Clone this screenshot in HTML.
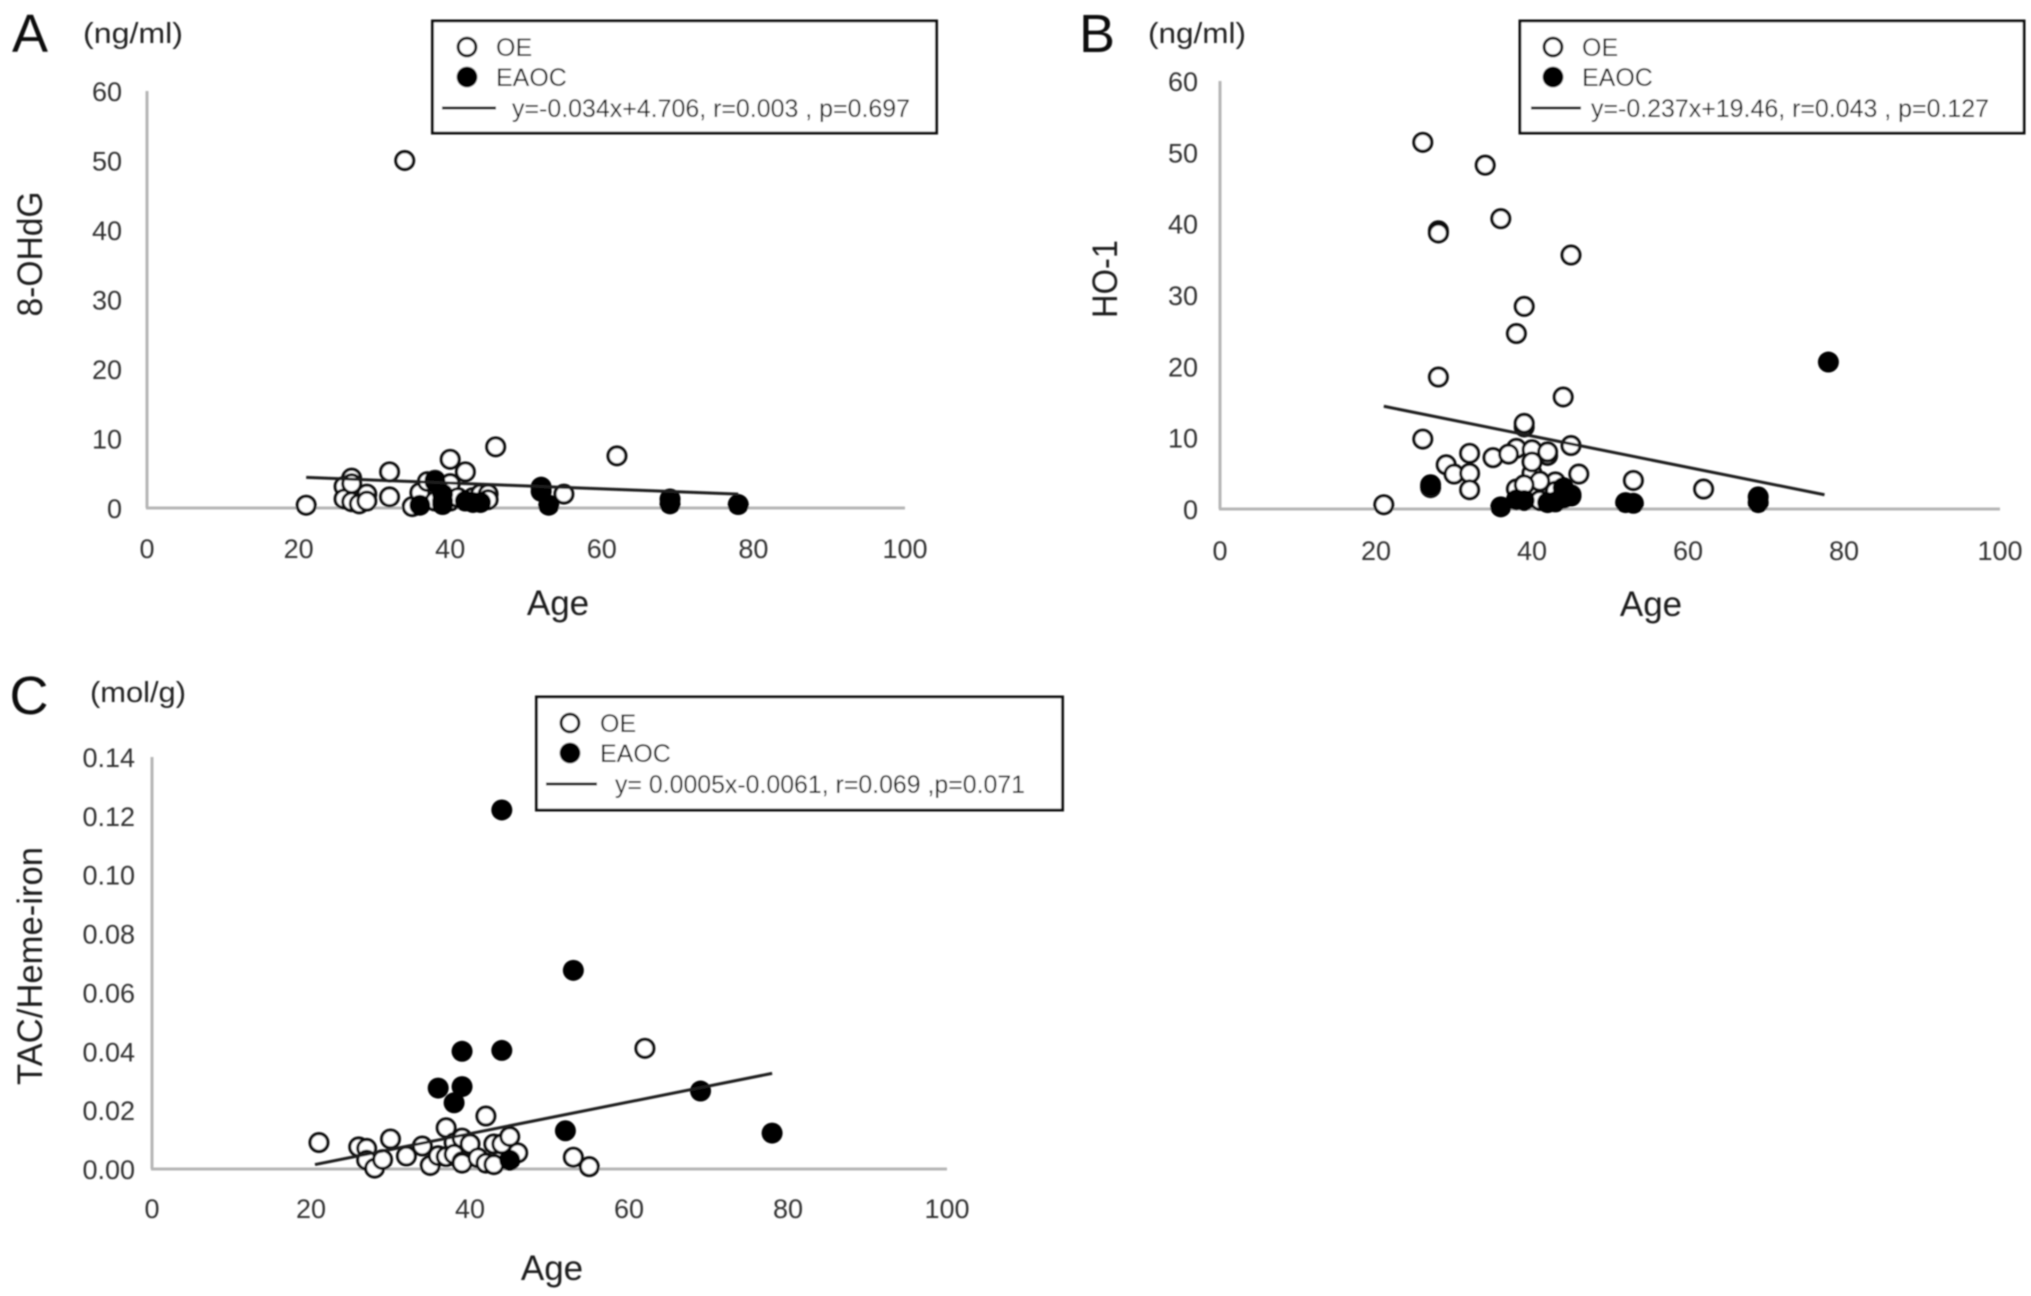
<!DOCTYPE html>
<html lang="en">
<head>
<meta charset="utf-8">
<title>OE and EAOC markers versus age</title>
<style>
  html, body { margin: 0; padding: 0; background: #ffffff; }
  #figure { display: block; width: 2031px; height: 1296px; }
  text { font-family: "Liberation Sans", sans-serif; }
  .tick { font-size: 27px; fill: #333333; }
  .axis-title { font-size: 35px; fill: #1f1f1f; }
  .unit { font-size: 29px; fill: #222222; }
  .panel-letter { font-size: 54px; fill: #111111; }
  .legend-text { font-size: 25px; fill: #141414; }
</style>
</head>
<body>
<svg id="figure" xmlns="http://www.w3.org/2000/svg" width="2031" height="1296" viewBox="0 0 2031 1296">
  <defs>
    <filter id="soften" x="-2%" y="-2%" width="104%" height="104%"><feGaussianBlur stdDeviation="0.7"/></filter>
  </defs>
  <rect width="2031" height="1296" fill="#ffffff"/>
  <g id="art" filter="url(#soften)">
    <g id="panel-a">
      <text class="panel-letter" x="30" y="52" text-anchor="middle">A</text>
      <text class="unit" x="133" y="43" text-anchor="middle" textLength="100" lengthAdjust="spacingAndGlyphs">(ng/ml)</text>
      <text class="axis-title" x="558" y="615" text-anchor="middle">Age</text>
      <text class="axis-title" transform="translate(42 254) rotate(-90)" text-anchor="middle" textLength="125" lengthAdjust="spacingAndGlyphs">8-OHdG</text>
    </g>
    <g id="panel-b">
      <text class="panel-letter" x="1097" y="52" text-anchor="middle">B</text>
      <text class="unit" x="1197" y="43" text-anchor="middle" textLength="98" lengthAdjust="spacingAndGlyphs">(ng/ml)</text>
      <text class="axis-title" x="1651" y="616" text-anchor="middle">Age</text>
      <text class="axis-title" transform="translate(1117 279) rotate(-90)" text-anchor="middle" textLength="78" lengthAdjust="spacingAndGlyphs">HO-1</text>
    </g>
    <g id="panel-c">
      <text class="panel-letter" x="29" y="714" text-anchor="middle">C</text>
      <text class="unit" x="138" y="702" text-anchor="middle" textLength="96" lengthAdjust="spacingAndGlyphs">(mol/g)</text>
      <text class="axis-title" x="552" y="1280" text-anchor="middle">Age</text>
      <text class="axis-title" transform="translate(42 966) rotate(-90)" text-anchor="middle" textLength="238" lengthAdjust="spacingAndGlyphs">TAC/Heme-iron</text>
    </g>

    <g>
      <rect x="432.5" y="21" width="504" height="112" fill="#ffffff" stroke="#111111" stroke-width="3"/>
      <circle cx="467" cy="47" r="8.9" fill="#ffffff" stroke="#111111" stroke-width="3"/>
      <text class="legend-text" x="496" y="56">OE</text>
      <circle cx="467" cy="77" r="10.4" fill="#000000"/>
      <text class="legend-text" x="496" y="86">EAOC</text>
      <line x1="442" y1="108" x2="496" y2="108" stroke="#111111" stroke-width="3"/>
      <text class="legend-text" x="512" y="117" textLength="398" lengthAdjust="spacingAndGlyphs">y=-0.034x+4.706, r=0.003 , p=0.697</text>
    </g>
    <g>
      <rect x="1520" y="21" width="504" height="112" fill="#ffffff" stroke="#111111" stroke-width="3"/>
      <circle cx="1553" cy="47" r="8.9" fill="#ffffff" stroke="#111111" stroke-width="3"/>
      <text class="legend-text" x="1582" y="56">OE</text>
      <circle cx="1553" cy="77" r="10.4" fill="#000000"/>
      <text class="legend-text" x="1582" y="86">EAOC</text>
      <line x1="1531" y1="108" x2="1581" y2="108" stroke="#111111" stroke-width="3"/>
      <text class="legend-text" x="1591" y="117" textLength="398" lengthAdjust="spacingAndGlyphs">y=-0.237x+19.46, r=0.043 , p=0.127</text>
    </g>
    <g>
      <rect x="536.5" y="697" width="526" height="113" fill="#ffffff" stroke="#111111" stroke-width="3"/>
      <circle cx="570" cy="723" r="8.9" fill="#ffffff" stroke="#111111" stroke-width="3"/>
      <text class="legend-text" x="600" y="732">OE</text>
      <circle cx="570" cy="753" r="10.4" fill="#000000"/>
      <text class="legend-text" x="600" y="762">EAOC</text>
      <line x1="546" y1="784" x2="597" y2="784" stroke="#111111" stroke-width="3"/>
      <text class="legend-text" x="615" y="793" textLength="410" lengthAdjust="spacingAndGlyphs">y= 0.0005x-0.0061, r=0.069 ,p=0.071</text>
    </g>
  </g>
</svg>
<script>
var xTickLabels = ["0", "20", "40", "60", "80", "100"];
var yTickLabelsA = ["0", "10", "20", "30", "40", "50", "60"];
var yTickLabelsB = ["0", "10", "20", "30", "40", "50", "60"];
var yTickLabelsC = ["0.00", "0.02", "0.04", "0.06", "0.08", "0.10", "0.12", "0.14"];

var oeAgesA = [21, 26, 26, 27, 27, 27, 28, 29, 29, 32, 32, 34, 35, 36, 37, 38, 38, 39, 40, 40, 40, 41, 42, 43, 44, 45, 45, 46, 55, 62];
var oeValuesA = [0.4, 3.1, 1.3, 4.3, 3.5, 0.9, 0.6, 2.0, 1.0, 5.2, 1.6, 50, 0.2, 2.2, 3.8, 4.0, 1.0, 2.0, 7.0, 3.5, 1.0, 1.5, 5.2, 1.5, 2.0, 2.0, 1.2, 8.8, 2.0, 7.5];
var eaocAgesA = [36, 38, 39, 39, 39, 42, 43, 44, 52, 52, 53, 69, 69, 78];
var eaocValuesA = [0.4, 3.8, 2.0, 1.0, 0.5, 1.0, 0.8, 0.8, 3.0, 2.4, 0.4, 1.3, 0.6, 0.5];
var trendAgesA = [21, 78];
var trendValuesA = [4.4, 2.0];

var oeAgesB = [26, 28, 28, 29, 30, 34, 36, 38, 38, 38, 39, 39, 39, 40, 40, 41, 42, 42, 43, 43, 45, 28, 26, 27, 21, 32, 32, 32, 35, 37, 40, 41, 39, 44, 45, 45, 46, 53, 62];
var oeValuesB = [51.4, 39.0, 38.7, 6.2, 4.9, 48.2, 40.7, 24.6, 8.5, 2.8, 28.4, 11.5, 12.0, 8.3, 5.0, 1.2, 7.5, 8.0, 3.8, 2.5, 2.0, 18.5, 9.8, 3.0, 0.6, 7.8, 5.0, 2.7, 7.2, 7.7, 6.6, 3.9, 3.4, 15.7, 35.6, 8.9, 4.9, 4.0, 2.8];
var eaocAgesB = [27, 36, 38, 39, 42, 43, 44, 44, 44, 45, 52, 53, 69, 69, 78];
var eaocValuesB = [3.4, 0.3, 1.3, 1.2, 0.9, 1.0, 1.5, 3.0, 2.2, 1.8, 0.9, 0.8, 1.7, 0.9, 20.6];
var trendAgesB = [21, 77.5];
var trendValuesB = [14.4, 2.0];

var oeAgesC = [21, 26, 27, 27, 28, 29, 30, 32, 34, 35, 36, 37, 37, 38, 38, 39, 39, 39, 40, 41, 42, 42, 43, 43, 44, 45, 46, 53, 55, 62];
var oeValuesC = [0.009, 0.0075, 0.007, 0.003, 0.0003, 0.0032, 0.0102, 0.0044, 0.0078, 0.0012, 0.0045, 0.014, 0.0042, 0.009, 0.005, 0.0105, 0.0025, 0.002, 0.0085, 0.0038, 0.018, 0.002, 0.0085, 0.0015, 0.0085, 0.011, 0.0055, 0.004, 0.0008, 0.041];
var eaocAgesC = [36, 38, 39, 39, 44, 44, 45, 52, 53, 69, 78];
var eaocValuesC = [0.0275, 0.0225, 0.04, 0.028, 0.122, 0.0403, 0.003, 0.013, 0.0675, 0.0265, 0.0122];
var trendAgesC = [20.5, 78];
var trendValuesC = [0.0015, 0.0325];

var SVG_NS = "http://www.w3.org/2000/svg";

function make(parent, tag, attrs) {
  var el = document.createElementNS(SVG_NS, tag);
  for (var k in attrs) { el.setAttribute(k, attrs[k]); }
  parent.appendChild(el);
  return el;
}

function drawPanel(id, box, xLabels, yLabels, oeAges, oeValues, eaocAges, eaocValues, trendAges, trendValues) {
  var root = document.getElementById(id);
  var xMax = parseFloat(xLabels[xLabels.length - 1]);
  var yMax = parseFloat(yLabels[yLabels.length - 1]);
  function sx(v) { return box.x0 + (v / xMax) * (box.x1 - box.x0); }
  function sy(v) { return box.y0 - (v / yMax) * (box.y0 - box.y1); }

  var yAxis = make(root, "line", { x1: sx(0), y1: box.y1, x2: sx(0), y2: box.y0, stroke: "#b5b5b5", "stroke-width": 3 });
  
  
  var xAxis = make(root, "line", { x1: box.x0 - 1, y1: box.y0, x2: box.x1, y2: box.y0, stroke: "#b5b5b5", "stroke-width": 3 });
  
  

  xLabels.forEach(function (label) {
    var t = make(root, "text", { "class": "tick", x: sx(parseFloat(label)), y: box.xTickY, "text-anchor": "middle" });
    t.textContent = label;
    
    
  });
  yLabels.forEach(function (label) {
    var t = make(root, "text", { "class": "tick", x: box.yTickX, y: sy(parseFloat(label)) + 10, "text-anchor": "end" });
    t.textContent = label;
    
    
  });

  oeAges.forEach(function (age, i) {
    var c = make(root, "circle", { cx: sx(age), cy: sy(oeValues[i]), r: 8.9, fill: "#ffffff", stroke: "#111111", "stroke-width": 3.2 });
    
    
  });
  eaocAges.forEach(function (age, i) {
    var c = make(root, "circle", { cx: sx(age), cy: sy(eaocValues[i]), r: 10.5, fill: "#000000" });
    
    
  });
  var trend = make(root, "line", {
    x1: sx(trendAges[0]), y1: sy(trendValues[0]),
    x2: sx(trendAges[1]), y2: sy(trendValues[1]),
    stroke: "#1f1f1f", "stroke-width": 3
  });
  
  
}

drawPanel("panel-a", { x0: 147, x1: 905, y0: 508, y1: 91, xTickY: 558, yTickX: 122 },
  xTickLabels, yTickLabelsA, oeAgesA, oeValuesA, eaocAgesA, eaocValuesA, trendAgesA, trendValuesA);
drawPanel("panel-b", { x0: 1220, x1: 2000, y0: 509, y1: 81, xTickY: 560, yTickX: 1198 },
  xTickLabels, yTickLabelsB, oeAgesB, oeValuesB, eaocAgesB, eaocValuesB, trendAgesB, trendValuesB);
drawPanel("panel-c", { x0: 152, x1: 947, y0: 1169, y1: 757, xTickY: 1218, yTickX: 135 },
  xTickLabels, yTickLabelsC, oeAgesC, oeValuesC, eaocAgesC, eaocValuesC, trendAgesC, trendValuesC);
</script>
</body>
</html>
